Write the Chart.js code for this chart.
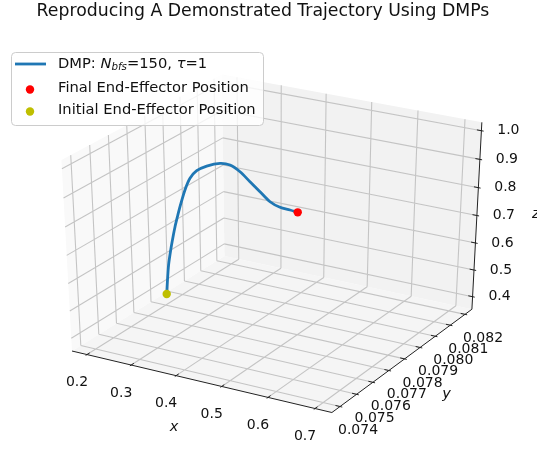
<!DOCTYPE html>
<html lang="en">
<head>
<meta charset="UTF-8" />
<title>Reproducing A Demonstrated Trajectory Using DMPs</title>
<style>
  body { margin: 0; background: #fff; }
  canvas { display: block; }
</style>
</head>
<body>
<canvas id="chart" width="537" height="450"></canvas>
<script src="https://cdn.jsdelivr.net/npm/chart.js"></script>
<script>
  // ---- data ----
  const xTicks = [0.2, 0.3, 0.4, 0.5, 0.6, 0.7];
  const yTicks = [0.074, 0.075, 0.076, 0.077, 0.078, 0.079, 0.080, 0.081, 0.082];
  const zTicks = [0.4, 0.5, 0.6, 0.7, 0.8, 0.9, 1.0];

  // extent of the 3d box (panes)
  const xLim = [0.1657, 0.7355];
  const yLim = [0.073516, 0.082475];
  const zLim = [0.3525, 1.029];

  // reproduced trajectory
  const trajX = [0.1951, 0.1979, 0.1974, 0.1993, 0.1974, 0.1987, 0.1973, 0.1994, 0.2038, 0.2080, 0.2198,
                 0.2388, 0.2651, 0.2877, 0.3062, 0.3247, 0.3470, 0.3657, 0.3881, 0.4068, 0.4240];
  const trajY = [0.0782, 0.0782, 0.0783, 0.0784, 0.0786, 0.0787, 0.0789, 0.0790, 0.0792, 0.0794, 0.0795,
                 0.0796, 0.0797, 0.0797, 0.0798, 0.0799, 0.0799, 0.0800, 0.0800, 0.0801, 0.0801];
  const trajZ = [0.3849, 0.4388, 0.4911, 0.5438, 0.5837, 0.6184, 0.6498, 0.6809, 0.7360, 0.7725, 0.8002,
                 0.8195, 0.8341, 0.8352, 0.8136, 0.7799, 0.7515, 0.7176, 0.7049, 0.6976, 0.6949];

  // ---- 3d view (matplotlib default elev/azim) ----
  const elev = 30, azim = -60, dist = 10;
  const re = elev * Math.PI / 180, ra = azim * Math.PI / 180;
  const n = [Math.cos(ra) * Math.cos(re), Math.sin(ra) * Math.cos(re), Math.sin(re)];
  const ul = Math.hypot(n[0], n[1]);
  const u = [-n[1] / ul, n[0] / ul, 0];
  const v = [n[1] * u[2] - n[2] * u[1], n[2] * u[0] - n[0] * u[2], n[0] * u[1] - n[1] * u[0]];
  const dot = (a, b) => a[0] * b[0] + a[1] * b[1] + a[2] * b[2];

  function proj(x, y, z) {
    const d = [
      (x - xLim[0]) / (xLim[1] - xLim[0]) - 0.5,
      (y - yLim[0]) / (yLim[1] - yLim[0]) - 0.5,
      (z - zLim[0]) / (zLim[1] - zLim[0]) - 0.5
    ];
    const w = dist - dot(n, d);
    return { x: dot(u, d) / w, y: dot(v, d) / w };
  }

  const gap = { x: NaN, y: NaN };
  function segs(list) {
    const out = [];
    list.forEach(([a, b]) => { out.push(proj(...a), proj(...b), gap); });
    return out;
  }

  const [x0, x1] = xLim, [y0, y1] = yLim, [z0, z1] = zLim;

  const panes = [
    { pts: [[x0, y0, z0], [x0, y1, z0], [x0, y1, z1], [x0, y0, z1], [x0, y0, z0]], color: '#f9f9f9' },
    { pts: [[x0, y1, z0], [x1, y1, z0], [x1, y1, z1], [x0, y1, z1], [x0, y1, z0]], color: '#f2f2f2' },
    { pts: [[x0, y0, z0], [x1, y0, z0], [x1, y1, z0], [x0, y1, z0], [x0, y0, z0]], color: '#f5f5f5' }
  ];

  const gridSegs = [];
  xTicks.forEach(t => {
    gridSegs.push([[t, y0, z0], [t, y1, z0]]);
    gridSegs.push([[t, y1, z0], [t, y1, z1]]);
  });
  yTicks.forEach(t => {
    gridSegs.push([[x0, t, z0], [x1, t, z0]]);
    gridSegs.push([[x0, t, z0], [x0, t, z1]]);
  });
  zTicks.forEach(t => {
    gridSegs.push([[x0, y0, t], [x0, y1, t]]);
    gridSegs.push([[x0, y1, t], [x1, y1, t]]);
  });

  const dxR = (x1 - x0) / 12, dyR = (y1 - y0) / 12;
  const tickSegs = [];
  xTicks.forEach(t => tickSegs.push([[t, y0 - 0.1 * dyR, z0], [t, y0 + 0.2 * dyR, z0]]));
  yTicks.forEach(t => tickSegs.push([[x1 + 0.1 * dxR, t, z0], [x1 - 0.2 * dxR, t, z0]]));
  zTicks.forEach(t => tickSegs.push([[x1 + 0.1 * dxR, y1, t], [x1 - 0.2 * dxR, y1, t]]));

  const trajPts = trajX.map((x, i) => proj(x, trajY[i], trajZ[i]));
  const last = trajX.length - 1;

  const lineOpts = { showLine: true, pointRadius: 0, spanGaps: false, fill: false };

  const datasets = [
    { label: 'Final End-Effector Position', data: [proj(trajX[last], trajY[last], trajZ[last])],
      pointRadius: 4.2, pointBackgroundColor: '#ff0000', pointBorderWidth: 0, order: 0 },
    { label: 'Initial End-Effector Position', data: [proj(trajX[0], trajY[0], trajZ[0])],
      pointRadius: 4.2, pointBackgroundColor: '#bfbf00', pointBorderWidth: 0, order: 1 },
    { label: 'DMP', data: trajPts, ...lineOpts, borderColor: '#1f77b4', borderWidth: 2.8, tension: 0.3, order: 2 },
    { label: 'ticks', data: segs(tickSegs), ...lineOpts, borderColor: '#222', borderWidth: 1, order: 3 },
    { label: 'axes', data: [proj(x0, y0, z0), proj(x1, y0, z0), proj(x1, y1, z0), proj(x1, y1, z1)],
      ...lineOpts, borderColor: '#222', borderWidth: 1, order: 4 },
    { label: 'grid', data: segs(gridSegs), ...lineOpts, borderColor: '#c4c4c4', borderWidth: 1.1, order: 5 }
  ];
  panes.forEach((p, i) => datasets.push({
    label: 'pane' + i, data: p.pts.map(q => proj(...q)), showLine: true, pointRadius: 0,
    borderWidth: 0, backgroundColor: p.color, fill: 'shape', order: 6
  }));

  const F = '"DejaVu Sans", sans-serif';
  const tickFont = '14px ' + F;
  const legFont = '14.7px ' + F;

  const textPlugin = {
    id: 'axisText',
    afterDraw(chart) {
      const ctx = chart.ctx, sx = chart.scales.x, sy = chart.scales.y;
      const pix = p => [sx.getPixelForValue(p.x), sy.getPixelForValue(p.y)];
      ctx.save();
      ctx.fillStyle = '#111';
      ctx.textAlign = 'center';
      ctx.textBaseline = 'middle';
      ctx.font = tickFont;
      xTicks.forEach(t => {
        const [a, b] = pix(proj(t, y0, z0));
        ctx.fillText(t.toFixed(1), a - 10, b + 28);
      });
      yTicks.forEach(t => {
        const [a, b] = pix(proj(x1, t, z0));
        ctx.fillText(t.toFixed(3), a + 18, b + 24);
      });
      zTicks.forEach(t => {
        const [a, b] = pix(proj(x1, y1, t));
        ctx.fillText(t.toFixed(1), a + 27, b);
      });
      ctx.font = 'italic 14.5px ' + F;
      let [a, b] = pix(proj((x0 + x1) / 2, y0, z0));
      ctx.fillText('x', a - 25, b + 46);
      [a, b] = pix(proj(x1, (y0 + y1) / 2, z0));
      ctx.fillText('y', a + 42, b + 35);
      [a, b] = pix(proj(x1, y1, (z0 + z1) / 2));
      ctx.fillText('z', a + 59, b - 4);

      // legend
      ctx.fillStyle = 'rgba(255,255,255,0.8)';
      ctx.strokeStyle = '#cccccc';
      ctx.lineWidth = 1;
      ctx.beginPath();
      ctx.roundRect(11.5, 52.5, 252, 73, 4);
      ctx.fill();
      ctx.stroke();

      ctx.strokeStyle = '#1f77b4';
      ctx.lineWidth = 2.8;
      ctx.beginPath();
      ctx.moveTo(15, 64);
      ctx.lineTo(46, 64);
      ctx.stroke();
      ctx.fillStyle = '#ff0000';
      ctx.beginPath(); ctx.arc(30, 89.5, 4.2, 0, Math.PI * 2); ctx.fill();
      ctx.fillStyle = '#bfbf00';
      ctx.beginPath(); ctx.arc(30, 111.5, 4.2, 0, Math.PI * 2); ctx.fill();

      ctx.fillStyle = '#111';
      ctx.textAlign = 'left';
      const parts = [
        ['DMP: ', legFont, 0], ['N', 'italic ' + legFont, 0], ['bfs', 'italic 10.3px ' + F, 3],
        ['=150, ', legFont, 0], ['τ', 'italic ' + legFont, 0], ['=1', legFont, 0]
      ];
      let tx = 58;
      parts.forEach(([s, f, dy]) => {
        ctx.font = f;
        ctx.fillText(s, tx, 64 + dy);
        tx += ctx.measureText(s).width;
      });
      ctx.font = legFont;
      ctx.fillText('Final End-Effector Position', 58, 88.5);
      ctx.fillText('Initial End-Effector Position', 58, 110.5);
      ctx.restore();
    }
  };

  new Chart(document.getElementById('chart'), {
    type: 'scatter',
    data: { datasets },
    options: {
      responsive: false,
      animation: false,
      events: [],
      layout: { padding: { right: 11 }, autoPadding: false },
      scales: {
        x: { type: 'linear', min: -0.09168, max: 0.08365, bounds: 'data', display: false },
        y: { type: 'linear', min: -0.09738, max: 0.09886, bounds: 'data', display: false }
      },
      plugins: {
        legend: { display: false },
        tooltip: { enabled: false },
        title: {
          display: true,
          text: 'Reproducing A Demonstrated Trajectory Using DMPs',
          color: '#111',
          font: { family: 'DejaVu Sans', size: 17.3, weight: 'normal', lineHeight: 1.2 },
          padding: { top: 1.44, bottom: 0 }
        }
      }
    },
    plugins: [textPlugin]
  });
</script>
</body>
</html>
